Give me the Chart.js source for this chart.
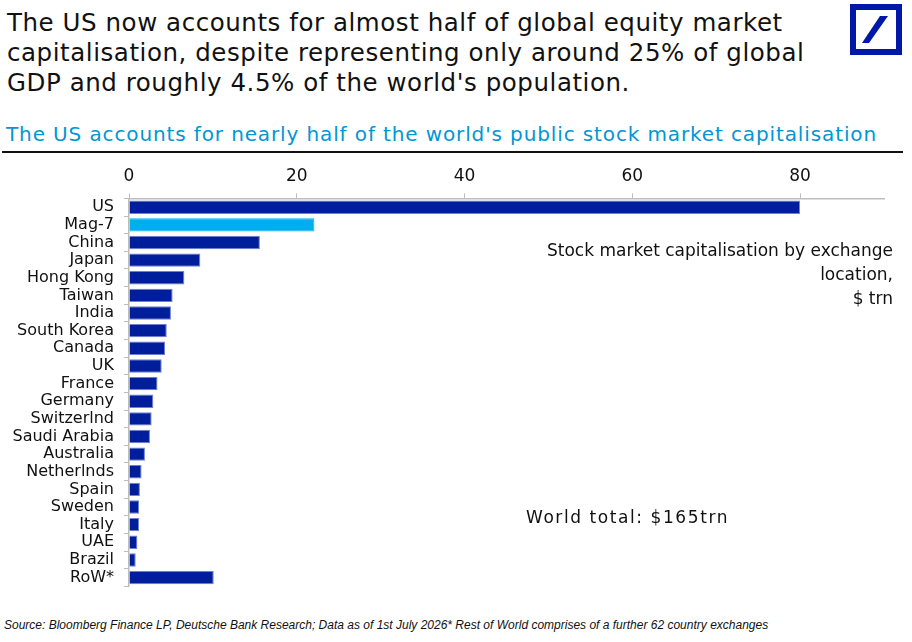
<!DOCTYPE html>
<html>
<head>
<meta charset="utf-8">
<script src="https://cdn.jsdelivr.net/npm/chart.js@4.4.1/dist/chart.umd.min.js"></script>
<style>
  html, body { margin: 0; padding: 0; background: #fff; }
  body { width: 912px; height: 642px; position: relative; overflow: hidden; font-family: "DejaVu Sans", sans-serif; }
  .title { position: absolute; left: 7px; top: 8px; font-size: 24.5px; line-height: 30px; color: #111; white-space: nowrap; }
  .subtitle { position: absolute; left: 6px; top: 122px; font-size: 20px; color: #0096d6; white-space: nowrap; }
  .rule { position: absolute; left: 2px; top: 151px; width: 901px; height: 2px; background: #111; }
  .logo { position: absolute; left: 850px; top: 4px; width: 40px; height: 39px; border: 6px solid #0018a8; }
  .logo svg { position: absolute; left: 0; top: 0; }
  .note { position: absolute; font-size: 17px; color: #111; white-space: nowrap; }
  .footer { position: absolute; left: 4px; top: 618px; font-size: 12px; font-style: italic; color: #111; font-family: "Liberation Sans", Arial, sans-serif; white-space: nowrap; }
  #chart { position: absolute; left: 0; top: 159px; }
</style>
</head>
<body>
<div class="title">The US now accounts for almost half of global equity market<br>capitalisation, despite representing only around 25% of global<br>GDP and roughly 4.5% of the world's population.</div>
<div class="logo"><svg width="40" height="39"><polygon points="24,6 32,6 13,33 6,33" fill="#0018a8"/></svg></div>
<div class="subtitle">The US accounts for nearly half of the world's public stock market capitalisation</div>
<div class="rule"></div>
<canvas id="chart" width="912" height="447"></canvas>
<div class="note" style="right:19px; top:238px; text-align:right; line-height:24px;">Stock market capitalisation by exchange<br>location,<br>$ trn</div>
<div class="note" id="total" style="left:526px; top:507px;">World total: $165trn</div>
<div class="footer">Source: Bloomberg Finance LP, Deutsche Bank Research; Data as of 1st July 2026* Rest of World comprises of a further 62 country exchanges</div>
<script>
var categories = ["US", "Mag-7", "China", "Japan", "Hong Kong", "Taiwan", "India", "South Korea", "Canada", "UK", "France", "Germany", "Switzerlnd", "Saudi Arabia", "Australia", "Netherlnds", "Spain", "Sweden", "Italy", "UAE", "Brazil", "RoW*"];
var marketCap = [80, 22.1, 15.6, 8.5, 6.6, 5.2, 5.0, 4.5, 4.3, 3.9, 3.4, 2.9, 2.7, 2.5, 1.9, 1.5, 1.3, 1.2, 1.2, 1.0, 0.8, 10.1];
var xTicks = [0, 20, 40, 60, 80];

var barColors = categories.map(function (c) { return c === "Mag-7" ? "#00aeef" : "#001e9c"; });
var borderColors = categories.map(function (c) { return c === "Mag-7" ? "#00aeef" : "#6f80d2"; });

// fit text blocks to the widths seen in the reference
function fitWidth(el, target) {
  var w = el.getBoundingClientRect().width;
  var n = el.textContent.length / (el.querySelectorAll("br").length + 1);
  el.style.letterSpacing = ((target - w) / n) + "px";
}
fitWidth(document.querySelector(".title"), 794);
fitWidth(document.querySelector(".subtitle"), 871);
fitWidth(document.getElementById("total"), 203);

new Chart(document.getElementById("chart"), {
  type: "bar",
  data: {
    labels: categories,
    datasets: [{
      data: marketCap,
      backgroundColor: barColors,
      borderColor: borderColors,
      borderWidth: 1,
      barPercentage: 0.76,
      categoryPercentage: 1
    }]
  },
  options: {
    indexAxis: "y",
    responsive: false,
    animation: false,
    layout: { padding: { right: 28, top: 0, bottom: 0, left: 0 } },
    scales: {
      x: {
        position: "top",
        min: 0,
        max: 90,
        afterBuildTicks: function (axis) {
          axis.ticks = xTicks.map(function (v) { return { value: v }; });
        },
        ticks: { color: "#111", font: { size: 17, family: "DejaVu Sans" }, padding: 7 },
        grid: { drawOnChartArea: false, tickLength: 5, color: "#bdbdbd" },
        border: { color: "#bdbdbd", width: 1.5 }
      },
      y: {
        afterFit: function (axis) { axis.width = 129; },
        ticks: { color: "#111", font: { size: 16, family: "DejaVu Sans" }, padding: 10, autoSkip: false },
        grid: { drawOnChartArea: false, tickLength: 5, color: "#bdbdbd", offset: true },
        border: { color: "#bdbdbd", width: 1.5 }
      }
    },
    plugins: {
      legend: { display: false },
      tooltip: { enabled: false }
    }
  }
});
</script>
</body>
</html>
